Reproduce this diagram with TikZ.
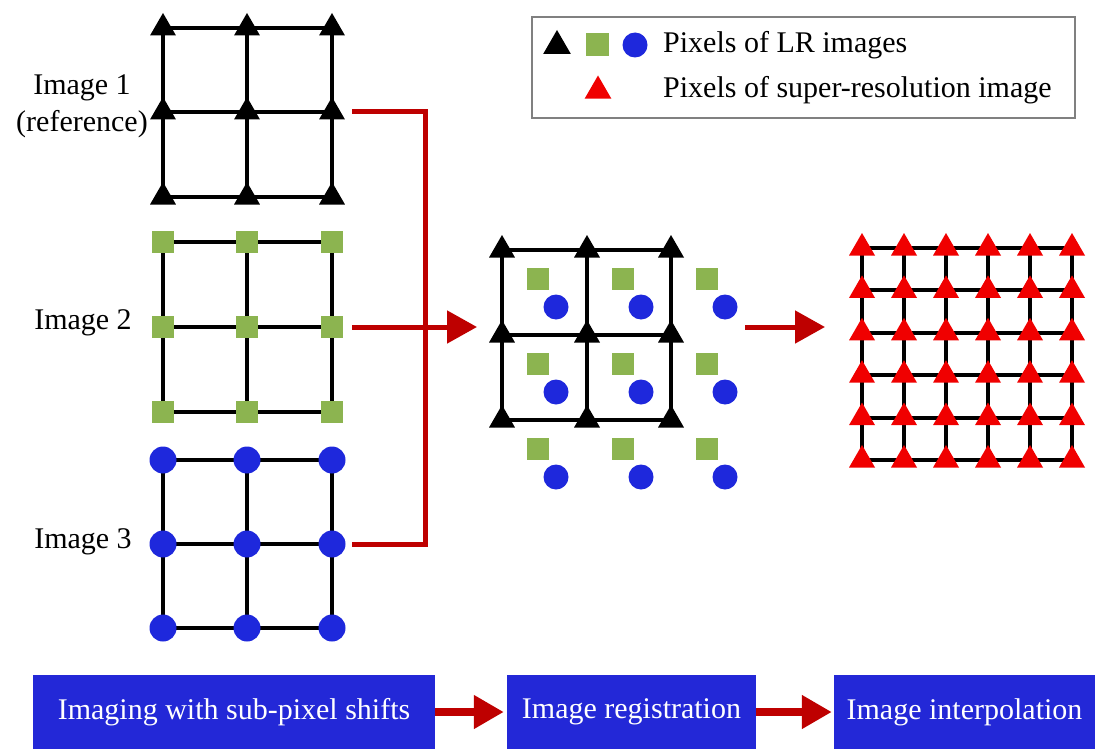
\documentclass[tikz,border=0pt]{standalone}
\usepackage{fontspec}
\setmainfont{Liberation Serif}
\usetikzlibrary{positioning,shapes.geometric,arrows.meta,backgrounds}
\definecolor{lrgreen}{RGB}{140,180,80}
\definecolor{lrblue}{RGB}{30,40,220}
\definecolor{srred}{RGB}{240,0,0}
\definecolor{flowred}{RGB}{190,0,0}
\definecolor{stageblue}{RGB}{35,40,215}
\tikzset{x=1pt, y=-1pt, % one unit is one pixel, y runs downwards
lrtri/.style={regular polygon, regular polygon sides=3, fill=black, inner sep=0pt, minimum size=30pt}, % pixel of image 1
srtri/.style={lrtri, fill=srred}, % pixel of the super-resolution image
lrsq/.style={rectangle, fill=lrgreen, inner sep=0pt, minimum size=22pt}, % pixel of image 2
lrdot/.style={circle, fill=lrblue, inner sep=0pt, minimum size=27pt}, % pixel of image 3
gridline/.style={line width=4pt, black},
flowline/.style={line width=5pt, flowred},
flow/.style={flowline, -{Triangle[length=30pt, width=32pt]}},
imglabel/.style={font=\fontsize{30}{37}\selectfont, align=center},
stagebox/.style={rectangle, fill=stageblue, text=white, minimum height=74pt, inner sep=0pt, font=\fontsize{30}{34}\selectfont},
}

\begin{document}
\begin{tikzpicture}
\useasboundingbox (0,0) rectangle (1107,749);

% the three LR images
\foreach \i/\x in {1/163,2/247,3/332}
  \foreach \j/\y in {1/28,2/112,3/197}
    \node[lrtri] (t-\i-\j) at (\x,\y) {};
\foreach \i/\x in {1/163,2/247,3/332}
  \foreach \j/\y in {1/242,2/327,3/412}
    \node[lrsq] (s-\i-\j) at (\x,\y) {};
\foreach \i/\x in {1/163,2/247,3/332}
  \foreach \j/\y in {1/460,2/544,3/628}
    \node[lrdot] (c-\i-\j) at (\x,\y) {};

\node[imglabel] (lab1) at (82,106) {Image 1\\(reference)};
\node[imglabel] (lab2) at (83,323) {Image 2};
\node[imglabel] (lab3) at (83,542) {Image 3};

% registered pixels
\foreach \i/\x in {1/502,2/587,3/671}
  \foreach \j/\y in {1/250,2/335,3/420} {
    \node[lrtri] (m-\i-\j) at (\x,\y) {};
    \node[lrsq] (ms-\i-\j) at (\x+36,\y+29) {};
    \node[lrdot, minimum size=25pt] (mc-\i-\j) at (\x+54,\y+57) {};
  }

% super-resolution grid
\foreach \i in {1,...,6}
  \foreach \j in {1,...,6}
    \node[srtri] (r-\i-\j) at (862+42*\i-42,248+42.4*\j-42.4) {};

\begin{scope}[on background layer]
\foreach \k in {1,2,3} {
  \draw[gridline] (t-1-\k.center) -- (t-3-\k.center);
  \draw[gridline] (t-\k-1.center) -- (t-\k-3.center);
  \draw[gridline] (s-1-\k.center) -- (s-3-\k.center);
  \draw[gridline] (s-\k-1.center) -- (s-\k-3.center);
  \draw[gridline] (c-1-\k.center) -- (c-3-\k.center);
  \draw[gridline] (c-\k-1.center) -- (c-\k-3.center);
  \draw[gridline] (m-1-\k.center) -- (m-3-\k.center);
  \draw[gridline] (m-\k-1.center) -- (m-\k-3.center);
}
\foreach \k in {1,...,6} {
  \draw[gridline] (r-1-\k.center) -- (r-6-\k.center);
  \draw[gridline] (r-\k-1.center) -- (r-\k-6.center);
}
\end{scope}

% red connectors
\coordinate (bus) at (425,327);
\coordinate (regin) at (477,327);
\coordinate (regout) at (745,327);
\coordinate (interpin) at (825,327);
\draw[flowline] ([xshift=20pt]t-3-2.center) -| (bus);
\draw[flowline] ([xshift=20pt]c-3-2.center) -| (bus);
\draw[flow] ([xshift=20pt]s-3-2.center) -- (regin);
\draw[flow] (regout) -- (interpin);

% legend
\node[draw=gray, line width=2pt, minimum width=543pt, minimum height=101pt, inner sep=0pt] (key) at (803.5,67.5) {};
\node[lrtri, minimum size=32pt] (key-t) at (557,46) {};
\node[lrsq, minimum size=23pt] (key-s) at (597,45) {};
\node[lrdot, minimum size=25pt] (key-c) at (635,45) {};
\node[srtri, minimum size=31pt] (key-r) at (598,91) {};
\node[imglabel, anchor=west, inner sep=0pt] (key-lr) at (663,45) {Pixels of LR images};
\node[imglabel, anchor=west, inner sep=0pt] (key-sr) at (663,90) {Pixels of super-resolution image};

% processing steps
\node[stagebox, minimum width=402pt] (shift) at (234,712) {Imaging with sub-pixel shifts};
\node[stagebox, minimum width=249pt] (reg) at (631.5,712) {Image registration};
\node[stagebox, minimum width=261pt] (interp) at (964.5,712) {Image interpolation};

\draw[flow, line width=8pt, shorten >=3pt] (shift) -- (reg);
\draw[flow, line width=8pt, shorten >=2pt] (reg) -- (interp);

\end{tikzpicture}
\end{document}
